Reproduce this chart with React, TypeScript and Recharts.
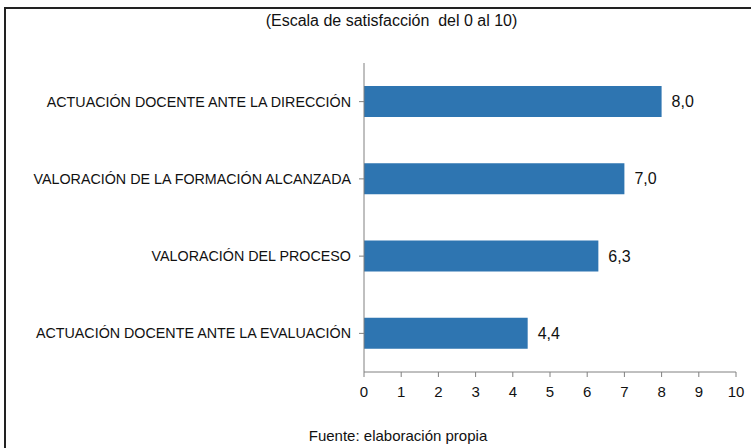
import { BarChart, Bar, XAxis, YAxis, LabelList } from 'recharts';

const categories = [
  'ACTUACIÓN DOCENTE ANTE LA DIRECCIÓN',
  'VALORACIÓN DE LA FORMACIÓN ALCANZADA',
  'VALORACIÓN DEL PROCESO',
  'ACTUACIÓN DOCENTE ANTE LA EVALUACIÓN',
];
const scores = [8.0, 7.0, 6.3, 4.4];
const xTicks = [0, 1, 2, 3, 4, 5, 6, 7, 8, 9, 10];

const FONT = '"Liberation Sans", Arial, sans-serif';

export default function App() {
  const data = categories.map((name, i) => ({ name, value: scores[i] }));

  return (
    <div style={{ position: 'absolute', left: 0, top: 0, width: 751, height: 448, background: '#fff', fontFamily: FONT }}>
      {/* frame, only top and left edges show in the crop */}
      <div style={{ position: 'absolute', left: 4, top: 7, width: 760, height: 460, borderTop: '2px solid #222', borderLeft: '2px solid #222' }} />
      <div style={{ position: 'absolute', left: 0, width: 783, top: 12, textAlign: 'center', fontSize: 16, color: '#111' }}>
        (Escala de satisfacción&nbsp; del 0 al 10)
      </div>
      <BarChart
        width={751}
        height={448}
        data={data}
        layout="vertical"
        margin={{ top: 63, right: 15, bottom: 46, left: 0 }}
        style={{ position: 'absolute', left: 0, top: 0 }}
      >
        <XAxis
          type="number"
          domain={[0, 10]}
          ticks={xTicks}
          interval={0}
          height={30}
          stroke="#808080"
          tickSize={5}
          tickMargin={9}
          tick={{ fill: '#111', fontSize: 15, fontFamily: FONT }}
        />
        <YAxis
          type="category"
          dataKey="name"
          width={364}
          stroke="#808080"
          tickSize={5}
          tickMargin={8}
          tick={{ fill: '#111', fontSize: 14.3, fontFamily: FONT }}
        />
        <Bar dataKey="value" fill="#2E75B1" barSize={31} isAnimationActive={false}>
          <LabelList
            dataKey="value"
            position="right"
            offset={10}
            formatter={(v: number) => v.toFixed(1).replace('.', ',')}
            style={{ fill: '#111', fontSize: 16, fontFamily: FONT }}
          />
        </Bar>
      </BarChart>
      <div style={{ position: 'absolute', left: 0, width: 796, top: 427, textAlign: 'center', fontSize: 15, color: '#111' }}>
        Fuente: elaboración propia
      </div>
    </div>
  );
}
